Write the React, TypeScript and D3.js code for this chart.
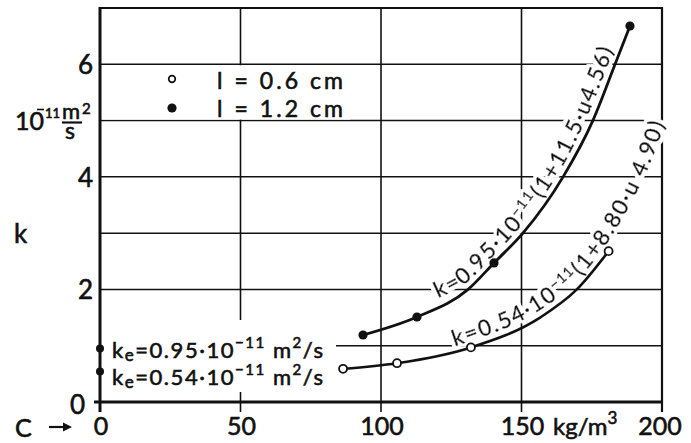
import React from "react";
import * as d3 from "d3";

// ---- data ----
const xTicks = [0, 50, 100, 150, 200];
const yTickLabels = [0, 2, 4, 6];
const yGridLines = [1, 2, 3, 4, 5, 6, 7];

// l = 0.6 cm (open circles)
const smallC = [86.5, 105.7, 132, 181];
const smallK = [0.59, 0.69, 0.97, 2.68];
// l = 1.2 cm (filled circles)
const largeC = [93.6, 112.8, 140.2, 188.6];
const largeK = [1.19, 1.51, 2.47, 6.68];

// fitted curves
const smallCurveC = [86.5, 105.7, 132, 156.6, 169.7, 181];
const smallCurveK = [0.59, 0.69, 0.97, 1.5, 2.0, 2.68];
const largeCurveC = [93.6, 112.8, 131, 140.2, 150.5, 164.8, 175.4, 183.3, 188.6];
const largeCurveK = [1.19, 1.51, 2.0, 2.47, 3.0, 4.0, 5.0, 6.0, 6.68];

// k_e values at c = 0
const keC = [0, 0];
const keK = [0.95, 0.54];

// label baselines (data coordinates)
const largeLabelC = [120.3, 129.9, 138.8, 148.8, 163.0, 173.3, 181.1, 182.9];
const largeLabelK = [1.85, 2.1, 2.54, 3.07, 4.05, 5.06, 6.04, 6.29];
const smallLabelC = [126.3, 144.1, 155.5, 168.3, 179.4, 187.2, 193.9, 198.2, 201.1];
const smallLabelK = [0.99, 1.31, 1.6, 2.08, 2.75, 3.38, 4.03, 4.55, 4.97];

const W = 691;
const H = 443;
const FONT = "Lato, 'DejaVu Sans', sans-serif";
const INK = "#111";

const x = d3.scaleLinear().domain([0, 200]).range([100, 662]);
const y = d3.scaleLinear().domain([0, 7]).range([402, 8]);

const zip = (a: number[], b: number[]) => a.map((v, i) => [v, b[i]] as [number, number]);

const curveLine = d3
  .line<[number, number]>()
  .x((d) => x(d[0]))
  .y((d) => y(d[1]))
  .curve(d3.curveMonotoneX);

const labelLine = d3
  .line<[number, number]>()
  .x((d) => x(d[0]))
  .y((d) => y(d[1]))
  .curve(d3.curveCatmullRom.alpha(0.5));

const pathLen = (pts: [number, number][]) => {
  let s = 0;
  for (let i = 1; i < pts.length; i++) {
    const dx = x(pts[i][0]) - x(pts[i - 1][0]);
    const dy = y(pts[i][1]) - y(pts[i - 1][1]);
    s += Math.hypot(dx, dy);
  }
  return s;
};

const bold = { stroke: INK, strokeWidth: 0.6 };

function CurveLabel({ id, pts, coef, rest }: { id: string; pts: [number, number][]; coef: string; rest: string }) {
  const len = pathLen(pts) - 2;
  return (
    <text fontSize={22} fill={INK} {...bold} filter="url(#halo)">
      <textPath href={"#" + id} textLength={len} lengthAdjust="spacing">
        {"k=" + coef + "·10"}
        <tspan dy={-8} fontSize={14}>
          −11
        </tspan>
        <tspan dy={8}>{rest}</tspan>
      </textPath>
    </text>
  );
}

export default function App() {
  const largeLabelPts = zip(largeLabelC, largeLabelK);
  const smallLabelPts = zip(smallLabelC, smallLabelK);
  return (
    <svg
      width={W}
      height={H}
      style={{ position: "absolute", left: 0, top: 0, background: "#fff" }}
      fontFamily={FONT}
    >
      <defs>
        <path id="lblLarge" d={labelLine(largeLabelPts) || ""} fill="none" />
        <path id="lblSmall" d={labelLine(smallLabelPts) || ""} fill="none" />
        <filter id="halo" x="-10%" y="-10%" width="120%" height="120%">
          <feMorphology in="SourceAlpha" operator="dilate" radius={3} result="grow" />
          <feFlood floodColor="#fff" result="white" />
          <feComposite in="white" in2="grow" operator="in" result="bg" />
          <feMerge>
            <feMergeNode in="bg" />
            <feMergeNode in="SourceGraphic" />
          </feMerge>
        </filter>
      </defs>

      {/* horizontal grid lines */}
      {yGridLines.map((v) => (
        <line
          key={"h" + v}
          x1={x(0)}
          x2={x(200)}
          y1={y(v)}
          y2={y(v)}
          stroke={INK}
          strokeWidth={v === 7 ? 2.2 : 1.5}
        />
      ))}
      {/* vertical grid lines */}
      {xTicks.map((v) => (
        <line
          key={"v" + v}
          x1={x(v)}
          x2={x(v)}
          y1={y(7) - 1}
          y2={y(0) + 10}
          stroke={INK}
          strokeWidth={v === 0 ? 3 : v === 200 ? 2.2 : 1.6}
        />
      ))}
      {/* x axis */}
      <line x1={x(0) - 6} x2={x(200)} y1={y(0)} y2={y(0)} stroke={INK} strokeWidth={3} />

      {/* white boxes behind legend and k_e notes */}
      <rect x={x(0) + 2} y={y(6) + 1} width={248} height={y(5) - y(6) - 2} fill="#fff" />
      <rect x={x(0) + 2} y={320} width={234} height={72} fill="#fff" />

      <g fill={INK} {...bold}>
        {/* y tick labels */}
        {yTickLabels.map((v) => (
          <text
            key={"yl" + v}
            x={v === 0 ? 85 : 93}
            y={y(v) + (v === 0 ? 2 : 0)}
            textAnchor="end"
            dominantBaseline="central"
            fontSize={26}
          >
            {v}
          </text>
        ))}
        {/* x tick labels */}
        {xTicks.map((v) => (
          <text key={"xl" + v} x={x(v) + (v === 200 ? -2 : 1)} y={435} textAnchor="middle" fontSize={25}>
            {v}
          </text>
        ))}
        <text x={553} y={435} fontSize={24}>
          kg/m
          <tspan dy={-11} fontSize={17}>
            3
          </tspan>
        </text>

        {/* C -> */}
        <text x={15} y={437} fontSize={25}>
          C
        </text>

        {/* y axis title and unit */}
        <text x={14} y={243} fontSize={26}>
          k
        </text>
        <text x={15} y={130} fontSize={25}>
          10
        </text>
        <text x={45} y={118} fontSize={13}>
          11
        </text>
        <text x={62} y={119} fontSize={22}>
          m
        </text>
        <text x={82} y={114} fontSize={15}>
          2
        </text>
        <text x={65} y={139} fontSize={23}>
          s
        </text>

        {/* legend */}
        <text x={217} y={89} fontSize={23} textLength={126} lengthAdjust="spacing">
          l = 0.6 cm
        </text>
        <text x={217} y={117} fontSize={23} textLength={126} lengthAdjust="spacing">
          l = 1.2 cm
        </text>

        {/* k_e notes */}
        <text x={112} y={358} fontSize={22} textLength={211} lengthAdjust="spacing">
          k<tspan dy={3} fontSize={17}>e</tspan>
          <tspan dy={-3}>=0.95·10</tspan>
          <tspan dy={-10} fontSize={15}>−11</tspan>
          <tspan dy={10}> m</tspan>
          <tspan dy={-10} fontSize={15}>2</tspan>
          <tspan dy={10}>/s</tspan>
        </text>
        <text x={112} y={385} fontSize={22} textLength={211} lengthAdjust="spacing">
          k<tspan dy={3} fontSize={17}>e</tspan>
          <tspan dy={-3}>=0.54·10</tspan>
          <tspan dy={-10} fontSize={15}>−11</tspan>
          <tspan dy={10}> m</tspan>
          <tspan dy={-10} fontSize={15}>2</tspan>
          <tspan dy={10}>/s</tspan>
        </text>
      </g>

      {/* unit exponent minus, fraction bar, arrow */}
      <line x1={37} x2={44} y1={109.5} y2={109.5} stroke={INK} strokeWidth={1.6} />
      <line x1={62} x2={82} y1={122.5} y2={122.5} stroke={INK} strokeWidth={2.2} />
      <line x1={49} x2={66} y1={427} y2={427} stroke={INK} strokeWidth={2.2} />
      <path d="M72,427 L63,422.5 L63,431.5 Z" fill={INK} />

      {/* legend markers */}
      <circle cx={172} cy={79} r={3.3} fill="#fff" stroke={INK} strokeWidth={1.7} />
      <circle cx={172} cy={108} r={4.6} fill={INK} />

      {/* curve labels */}
      <CurveLabel id="lblLarge" pts={largeLabelPts} coef="0.95" rest="(1+11.5·u4.56)" />
      <CurveLabel id="lblSmall" pts={smallLabelPts} coef="0.54" rest="(1+8.80·u 4.90)" />

      {/* curves */}
      <path d={curveLine(zip(largeCurveC, largeCurveK)) || ""} fill="none" stroke={INK} strokeWidth={2.8} />
      <path d={curveLine(zip(smallCurveC, smallCurveK)) || ""} fill="none" stroke={INK} strokeWidth={2.6} />

      {/* markers */}
      {largeC.map((c, i) => (
        <circle key={"L" + i} cx={x(c)} cy={y(largeK[i])} r={4.6} fill={INK} />
      ))}
      {smallC.map((c, i) => (
        <circle key={"S" + i} cx={x(c)} cy={y(smallK[i])} r={4} fill="#fff" stroke={INK} strokeWidth={1.8} />
      ))}
      {keC.map((c, i) => (
        <circle key={"E" + i} cx={x(c)} cy={y(keK[i])} r={4} fill={INK} />
      ))}
    </svg>
  );
}
